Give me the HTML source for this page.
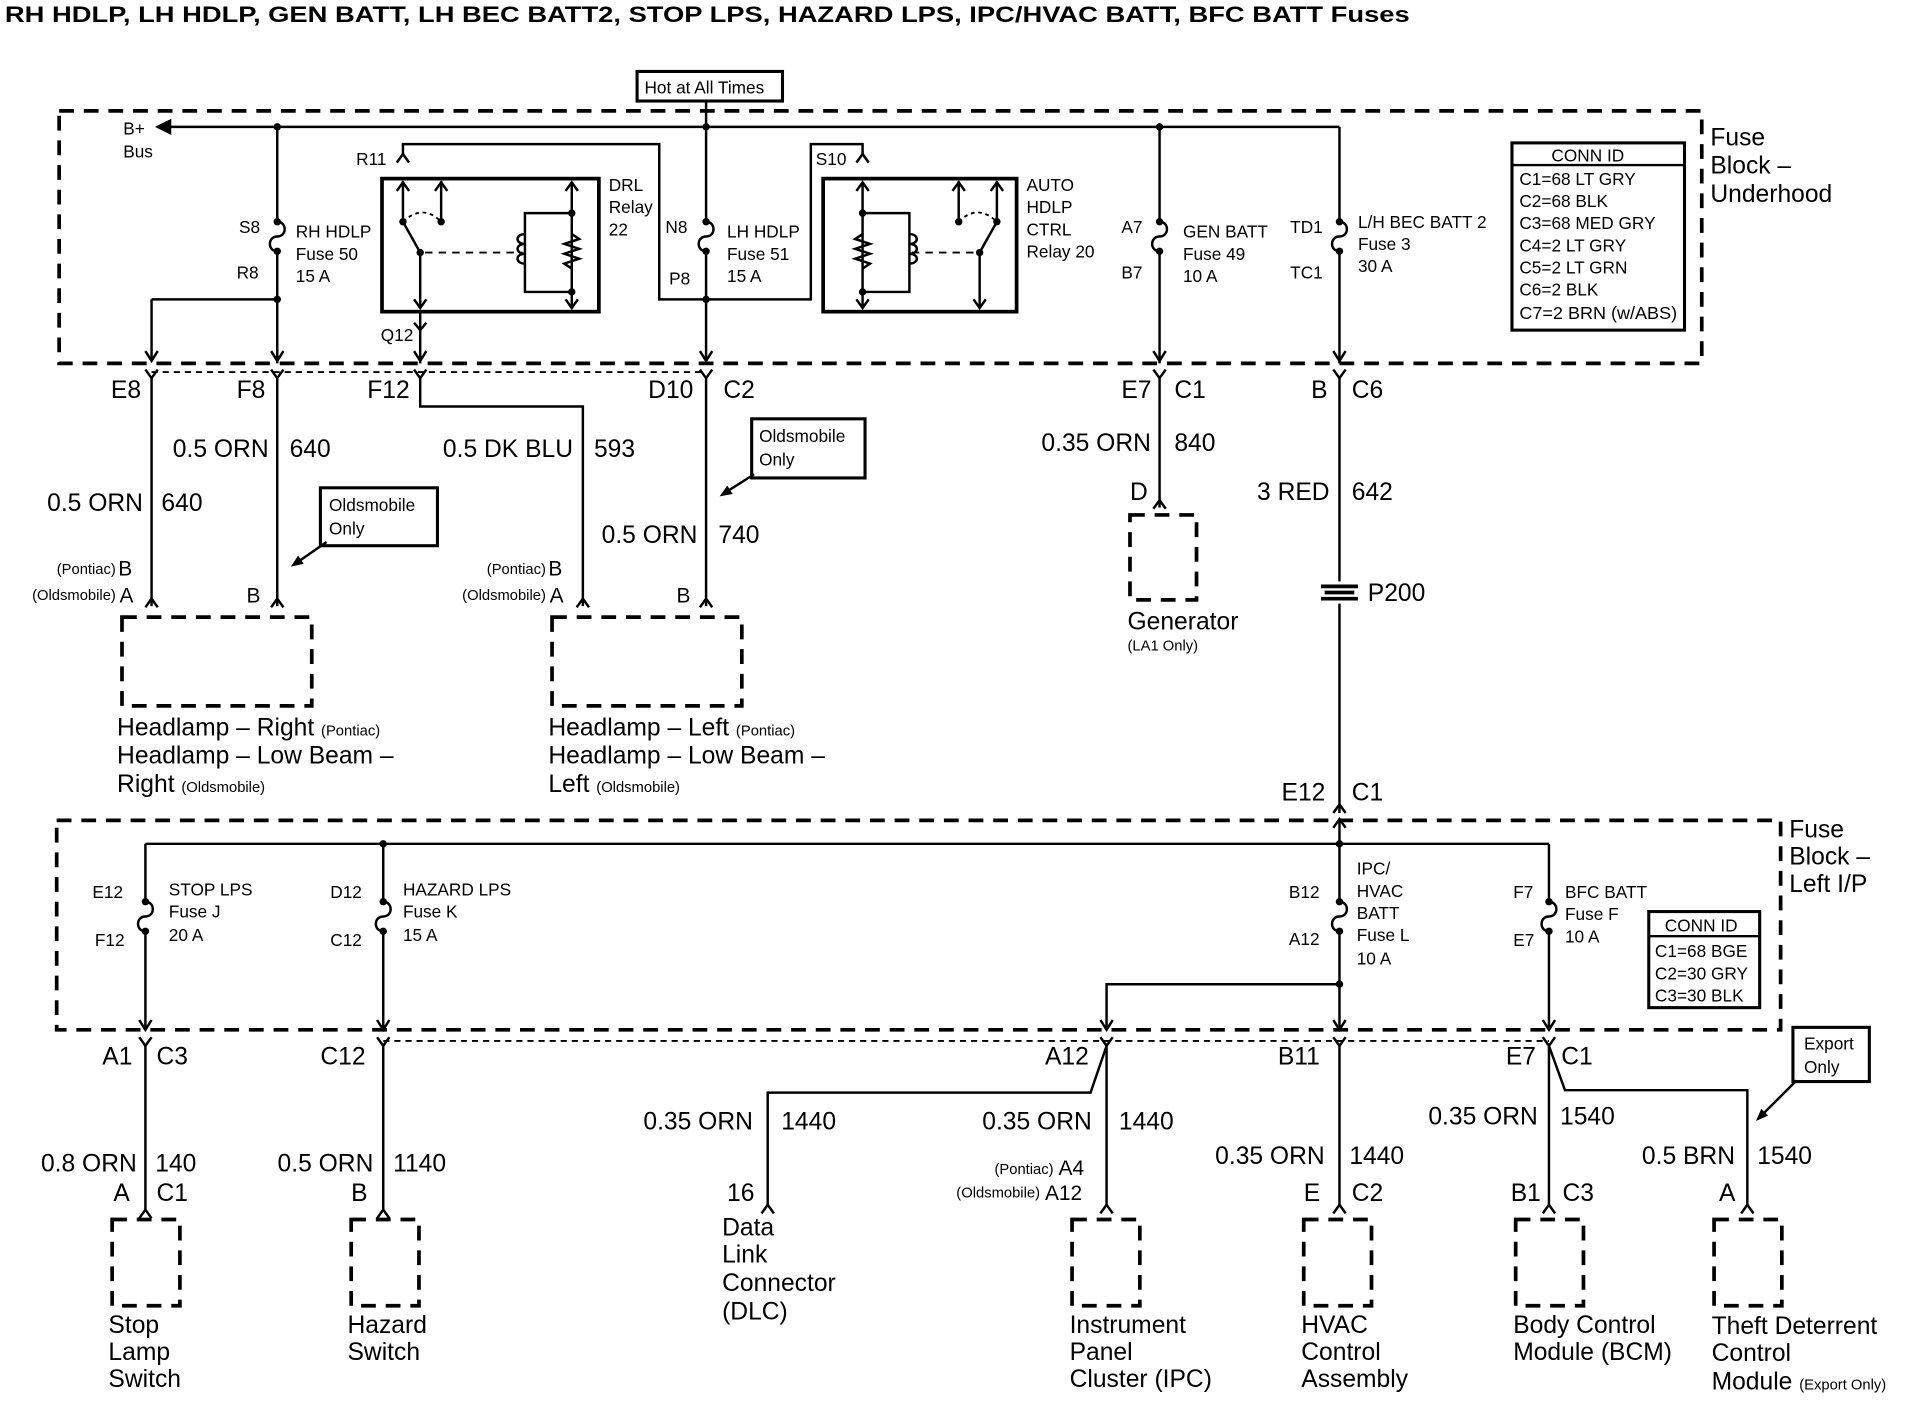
<!DOCTYPE html>
<html><head><meta charset="utf-8"><style>
html,body{margin:0;padding:0;background:#fff;}
svg{display:block;}
text{font-family:"Liberation Sans",Arial,sans-serif;fill:#000;}
.b{font-size:20px;}
.s{font-size:14px;}
.m{font-size:17px;}
.x{font-size:12px;}
.c{font-size:14px;}
.h{font-size:20px;}
</style></head><body>
<svg width="1910" height="1408" viewBox="0 0 1550 1143" preserveAspectRatio="none" xmlns="http://www.w3.org/2000/svg">
<g fill="none" stroke="#000" stroke-width="2">
<rect x="48" y="90" width="1333" height="205" stroke-width="3" stroke-dasharray="12,8"/>
<rect x="517" y="58" width="118" height="24" stroke-width="2.5"/>
<line x1="573" y1="82" x2="573" y2="103"/>
<line x1="128" y1="103" x2="1087" y2="103"/>
<path d="M128 103 L138 98 L138 108 Z" fill="#000"/>
<line x1="225" y1="103" x2="225" y2="180"/><line x1="225" y1="204" x2="225" y2="295"/>
<path d="M225 180 c8 0 8 12 0 12 c-8 0 -8 12 0 12"/>
<line x1="123" y1="243" x2="225" y2="243"/><line x1="123" y1="243" x2="123" y2="293"/>
<path d="M118 285 L123 293 L128 285 M220 285 L225 293 L230 285"/>
<rect x="310" y="145" width="176" height="108" stroke-width="3"/>
<path d="M327 125 V117 H535 V243 H573"/>
<path d="M322 132 L327 125 L332 132"/>
<line x1="327" y1="147" x2="327" y2="180"/><path d="M322 155 L327 148 L332 155"/>
<line x1="358" y1="147" x2="358" y2="180"/><path d="M353 155 L358 148 L363 155"/>
<line x1="327" y1="180" x2="341" y2="205"/>
<path d="M327 180 Q343 165 358 180" stroke-dasharray="3,3" stroke-width="1.5"/>
<line x1="341" y1="205" x2="341" y2="250"/><path d="M336 243 L341 250 L346 243"/>
<line x1="345" y1="205" x2="424" y2="205" stroke-dasharray="6,5" stroke-width="1.5"/>
<path d="M464 148 V250 M459 155 L464 148 L469 155 M459 243 L464 250 L469 243"/>
<path d="M464 173 H426 V237 H464"/>
<path d="M426 190 c-8 0 -8 8 0 8 c-8 0 -8 8 0 8 c-8 0 -8 8 0 8"/>
<path d="M464 190 l6 4 -12 4 12 4 -12 4 12 4 -12 4 6 4" fill="none"/>
<line x1="341" y1="253" x2="341" y2="295"/>
<path d="M336 262 L341 268 L346 262 M336 285 L341 293 L346 285"/>
<line x1="573" y1="103" x2="573" y2="180"/><line x1="573" y1="204" x2="573" y2="295"/>
<path d="M573 180 c8 0 8 12 0 12 c-8 0 -8 12 0 12"/>
<path d="M568 285 L573 293 L578 285"/>
<path d="M573 243 H658 V117 H700 V125"/>
<path d="M695 132 L700 125 L705 132"/>
<rect x="668" y="145" width="157" height="108" stroke-width="3"/>
<path d="M700 148 V250 M695 155 L700 148 L705 155 M695 243 L700 250 L705 243"/>
<path d="M700 173 H738 V237 H700"/>
<path d="M738 190 c8 0 8 8 0 8 c8 0 8 8 0 8 c8 0 8 8 0 8"/>
<path d="M700 190 l-6 4 12 4 -12 4 12 4 -12 4 12 4 -6 4"/>
<line x1="778" y1="147" x2="778" y2="180"/><path d="M773 155 L778 148 L783 155"/>
<line x1="809" y1="147" x2="809" y2="180"/><path d="M804 155 L809 148 L814 155"/>
<line x1="809" y1="180" x2="795" y2="205"/>
<path d="M778 180 Q793 165 809 180" stroke-dasharray="3,3" stroke-width="1.5"/>
<line x1="795" y1="205" x2="795" y2="250"/><path d="M790 243 L795 250 L800 243"/>
<line x1="740" y1="205" x2="792" y2="205" stroke-dasharray="6,5" stroke-width="1.5"/>
<line x1="941" y1="103" x2="941" y2="180"/><line x1="941" y1="204" x2="941" y2="295"/>
<path d="M941 180 c8 0 8 12 0 12 c-8 0 -8 12 0 12"/>
<path d="M936 285 L941 293 L946 285"/>
<line x1="1087" y1="103" x2="1087" y2="180"/><line x1="1087" y1="204" x2="1087" y2="295"/>
<path d="M1087 180 c8 0 8 12 0 12 c-8 0 -8 12 0 12"/>
<path d="M1082 285 L1087 293 L1092 285"/>
<rect x="1227" y="116" width="140" height="152" stroke-width="2.5"/>
<line x1="1227" y1="134" x2="1367" y2="134"/>
<line x1="123" y1="302" x2="573" y2="302" stroke-dasharray="5,4" stroke-width="1.5"/>
<path d="M118 300 L123 307 L128 300 M220 300 L225 307 L230 300 M336 300 L341 307 L346 300 M568 300 L573 307 L578 300 M936 300 L941 307 L946 300 M1082 300 L1087 307 L1092 300"/>
<line x1="123" y1="307" x2="123" y2="492"/>
<line x1="225" y1="307" x2="225" y2="492"/>
<path d="M341 307 V330 H473 V492"/>
<line x1="573" y1="307" x2="573" y2="492"/>
<line x1="941" y1="307" x2="941" y2="412"/>
<line x1="1087" y1="307" x2="1087" y2="472"/><line x1="1087" y1="490" x2="1087" y2="660"/>
<path d="M1072 476 H1102 M1072 486 H1102 M1075 481 H1099" stroke-width="3"/>
<path d="M118 493 L123 486 L128 493 M220 493 L225 486 L230 493 M468 493 L473 486 L478 493 M568 493 L573 486 L578 493 M936 413 L941 406 L946 413 M1082 660 L1087 653 L1092 660"/>
<rect x="260" y="396" width="95" height="47" stroke-width="2.5"/>
<line x1="265" y1="440" x2="242" y2="456"/>
<rect x="610" y="340" width="92" height="48" stroke-width="2.5"/>
<line x1="612" y1="385" x2="590" y2="399"/>
<rect x="99" y="501" width="154" height="72" stroke-width="3" stroke-dasharray="12,8"/>
<rect x="448" y="501" width="154" height="72" stroke-width="3" stroke-dasharray="12,8"/>
<rect x="917" y="418" width="54" height="69" stroke-width="3" stroke-dasharray="12,8"/>
<rect x="46" y="666" width="1399" height="170" stroke-width="3" stroke-dasharray="12,8"/>
<line x1="1087" y1="665" x2="1087" y2="685"/>
<path d="M1082 672 L1087 665 L1092 672"/>
<line x1="118" y1="685" x2="1257" y2="685"/>
<line x1="118" y1="685" x2="118" y2="732"/><line x1="118" y1="756" x2="118" y2="836"/>
<path d="M118 732 c8 0 8 12 0 12 c-8 0 -8 12 0 12"/>
<line x1="311" y1="685" x2="311" y2="732"/><line x1="311" y1="756" x2="311" y2="836"/>
<path d="M311 732 c8 0 8 12 0 12 c-8 0 -8 12 0 12"/>
<line x1="1087" y1="685" x2="1087" y2="732"/><line x1="1087" y1="756" x2="1087" y2="836"/>
<path d="M1087 732 c8 0 8 12 0 12 c-8 0 -8 12 0 12"/>
<line x1="1257" y1="685" x2="1257" y2="732"/><line x1="1257" y1="756" x2="1257" y2="836"/>
<path d="M1257 732 c8 0 8 12 0 12 c-8 0 -8 12 0 12"/>
<path d="M1087 799 H898 V836"/>
<path d="M113 828 L118 836 L123 828 M306 828 L311 836 L316 828 M893 828 L898 836 L903 828 M1082 828 L1087 836 L1092 828 M1252 828 L1257 836 L1262 828"/>
<line x1="311" y1="845" x2="1257" y2="845" stroke-dasharray="5,4" stroke-width="1.5"/>
<path d="M113 842 L118 849 L123 842 M306 842 L311 849 L316 842 M893 842 L898 849 L903 842 M1082 842 L1087 849 L1092 842 M1252 842 L1257 849 L1262 842"/>
<line x1="118" y1="849" x2="118" y2="982"/>
<line x1="311" y1="849" x2="311" y2="982"/>
<path d="M898 849 L885 887 H623 V978"/>
<line x1="898" y1="849" x2="898" y2="978"/>
<line x1="1087" y1="849" x2="1087" y2="978"/>
<path d="M1257 849 L1270 885 H1418 V978"/>
<line x1="1257" y1="849" x2="1257" y2="978"/>
<path d="M113 989 L118 982 L123 989 M306 989 L311 982 L316 989 M618 985 L623 978 L628 985 M893 985 L898 978 L903 985 M1082 985 L1087 978 L1092 985 M1252 985 L1257 978 L1262 985 M1413 985 L1418 978 L1423 985"/>
<rect x="1338" y="740" width="90" height="78" stroke-width="2.5"/>
<line x1="1338" y1="760" x2="1428" y2="760"/>
<rect x="1455" y="834" width="62" height="44" stroke-width="2.5"/>
<line x1="1458" y1="877" x2="1431" y2="904"/>
<rect x="91" y="990" width="55" height="70" stroke-width="3" stroke-dasharray="12,8"/>
<rect x="285" y="990" width="55" height="70" stroke-width="3" stroke-dasharray="12,8"/>
<rect x="870" y="990" width="55" height="70" stroke-width="3" stroke-dasharray="12,8"/>
<rect x="1058" y="990" width="55" height="70" stroke-width="3" stroke-dasharray="12,8"/>
<rect x="1230" y="990" width="55" height="70" stroke-width="3" stroke-dasharray="12,8"/>
<rect x="1391" y="990" width="55" height="70" stroke-width="3" stroke-dasharray="12,8"/>
</g>
<g fill="#000">
<polygon points="236,460 246.5,457.6 241.9,451"/>
<polygon points="584,403 594.6,401 590.2,394.2"/>
<polygon points="1425,910 1434.9,905.7 1429.3,900.1"/>
<circle cx="225" cy="243" r="3"/><circle cx="573" cy="243" r="3"/><circle cx="573" cy="103" r="3"/><circle cx="225" cy="103" r="3"/><circle cx="941" cy="103" r="3"/>
<circle cx="327" cy="180" r="3"/><circle cx="358" cy="180" r="3"/><circle cx="341" cy="205" r="3"/><circle cx="464" cy="173" r="3"/><circle cx="464" cy="237" r="3"/>
<circle cx="700" cy="173" r="3"/><circle cx="700" cy="237" r="3"/><circle cx="778" cy="180" r="3"/><circle cx="809" cy="180" r="3"/><circle cx="795" cy="205" r="3"/>
<circle cx="225" cy="180" r="3"/><circle cx="225" cy="204" r="3"/><circle cx="573" cy="180" r="3"/><circle cx="573" cy="204" r="3"/><circle cx="941" cy="180" r="3"/><circle cx="941" cy="204" r="3"/><circle cx="1087" cy="180" r="3"/><circle cx="1087" cy="204" r="3"/>
<circle cx="311" cy="685" r="3"/><circle cx="1087" cy="685" r="3"/><circle cx="1087" cy="799" r="3"/>
<circle cx="118" cy="732" r="3"/><circle cx="118" cy="756" r="3"/><circle cx="311" cy="732" r="3"/><circle cx="311" cy="756" r="3"/><circle cx="1087" cy="732" r="3"/><circle cx="1087" cy="756" r="3"/><circle cx="1257" cy="732" r="3"/><circle cx="1257" cy="756" r="3"/>
</g>
<text x="4" y="18" font-size="18" font-weight="bold" textLength="1140" lengthAdjust="spacingAndGlyphs">RH HDLP, LH HDLP, GEN BATT, LH BEC BATT2, STOP LPS, HAZARD LPS, IPC/HVAC BATT, BFC BATT Fuses</text>
<text x="523" y="76" class="s">Hot at All Times</text>
<text x="100" y="109" class="s">B+</text><text x="100" y="128" class="s">Bus</text>
<text x="194" y="189" class="s">S8</text><text x="192" y="226" class="s">R8</text>
<text x="240" y="193" class="s">RH HDLP</text><text x="240" y="211" class="s">Fuse 50</text><text x="240" y="229" class="s">15 A</text>
<text x="289" y="134" class="s">R11</text><text x="309" y="277" class="s">Q12</text>
<text x="494" y="155" class="s">DRL</text><text x="494" y="173" class="s">Relay</text><text x="494" y="191" class="s">22</text>
<text x="540" y="189" class="s">N8</text><text x="543" y="231" class="s">P8</text>
<text x="590" y="193" class="s">LH HDLP</text><text x="590" y="211" class="s">Fuse 51</text><text x="590" y="229" class="s">15 A</text>
<text x="662" y="134" class="s">S10</text>
<text x="833" y="155" class="s">AUTO</text><text x="833" y="173" class="s">HDLP</text><text x="833" y="191" class="s">CTRL</text><text x="833" y="209" class="s">Relay 20</text>
<text x="910" y="189" class="s">A7</text><text x="910" y="226" class="s">B7</text>
<text x="960" y="193" class="s">GEN BATT</text><text x="960" y="211" class="s">Fuse 49</text><text x="960" y="229" class="s">10 A</text>
<text x="1047" y="189" class="s">TD1</text><text x="1047" y="226" class="s">TC1</text>
<text x="1102" y="185" class="s">L/H BEC BATT 2</text><text x="1102" y="203" class="s">Fuse 3</text><text x="1102" y="221" class="s">30 A</text>
<text x="1259" y="131" class="c">CONN ID</text>
<text x="1233" y="150" class="c">C1=68 LT GRY</text><text x="1233" y="168" class="c">C2=68 BLK</text><text x="1233" y="186" class="c">C3=68 MED GRY</text><text x="1233" y="204" class="c">C4=2 LT GRY</text><text x="1233" y="222" class="c">C5=2 LT GRN</text><text x="1233" y="240" class="c">C6=2 BLK</text><text x="1233" y="259" class="c" textLength="128" lengthAdjust="spacingAndGlyphs">C7=2 BRN (w/ABS)</text>
<text x="1388" y="118" class="h">Fuse</text><text x="1388" y="141" class="h">Block –</text><text x="1388" y="164" class="h">Underhood</text>
<text x="90" y="323" class="b">E8</text><text x="192" y="323" class="b">F8</text><text x="298" y="323" class="b">F12</text><text x="526" y="323" class="b">D10</text><text x="587" y="323" class="b">C2</text>
<text x="910" y="323" class="b">E7</text><text x="953" y="323" class="b">C1</text><text x="1064" y="323" class="b">B</text><text x="1097" y="323" class="b">C6</text>
<text x="218" y="371" class="b" text-anchor="end">0.5 ORN</text><text x="235" y="371" class="b">640</text>
<text x="116" y="415" class="b" text-anchor="end">0.5 ORN</text><text x="131" y="415" class="b">640</text>
<text x="465" y="371" class="b" text-anchor="end">0.5 DK BLU</text><text x="482" y="371" class="b">593</text>
<text x="566" y="441" class="b" text-anchor="end">0.5 ORN</text><text x="583" y="441" class="b">740</text>
<text x="934" y="366" class="b" text-anchor="end">0.35 ORN</text><text x="953" y="366" class="b">840</text>
<text x="1079" y="406" class="b" text-anchor="end">3 RED</text><text x="1097" y="406" class="b">642</text>
<text x="267" y="415" class="s">Oldsmobile</text><text x="267" y="434" class="s">Only</text>
<text x="616" y="359" class="s">Oldsmobile</text><text x="616" y="378" class="s">Only</text>
<text x="94" y="466" class="x" text-anchor="end">(Pontiac)</text><text x="96" y="467" class="m">B</text>
<text x="94" y="487" class="x" text-anchor="end">(Oldsmobile)</text><text x="97" y="489" class="m">A</text>
<text x="200" y="489" class="m">B</text>
<text x="443" y="466" class="x" text-anchor="end">(Pontiac)</text><text x="445" y="467" class="m">B</text>
<text x="443" y="487" class="x" text-anchor="end">(Oldsmobile)</text><text x="446" y="489" class="m">A</text>
<text x="549" y="489" class="m">B</text>
<text x="917" y="406" class="b">D</text>
<text x="95" y="597" class="b">Headlamp – Right <tspan class="x">(Pontiac)</tspan></text>
<text x="95" y="620" class="b">Headlamp – Low Beam –</text>
<text x="95" y="643" class="b">Right <tspan class="x">(Oldsmobile)</tspan></text>
<text x="445" y="597" class="b">Headlamp – Left <tspan class="x">(Pontiac)</tspan></text>
<text x="445" y="620" class="b">Headlamp – Low Beam –</text>
<text x="445" y="643" class="b">Left <tspan class="x">(Oldsmobile)</tspan></text>
<text x="915" y="511" class="b">Generator</text><text x="915" y="528" class="x">(LA1 Only)</text>
<text x="1110" y="488" class="b">P200</text>
<text x="1040" y="650" class="b">E12</text><text x="1097" y="650" class="b">C1</text>
<text x="1452" y="680" class="h">Fuse</text><text x="1452" y="702" class="h">Block –</text><text x="1452" y="724" class="h">Left I/P</text>
<text x="75" y="729" class="s">E12</text><text x="77" y="768" class="s">F12</text>
<text x="137" y="727" class="s">STOP LPS</text><text x="137" y="745" class="s">Fuse J</text><text x="137" y="764" class="s">20 A</text>
<text x="268" y="729" class="s">D12</text><text x="268" y="768" class="s">C12</text>
<text x="327" y="727" class="s">HAZARD LPS</text><text x="327" y="745" class="s">Fuse K</text><text x="327" y="764" class="s">15 A</text>
<text x="1046" y="729" class="s">B12</text><text x="1046" y="767" class="s">A12</text>
<text x="1101" y="710" class="s">IPC/</text><text x="1101" y="728" class="s">HVAC</text><text x="1101" y="746" class="s">BATT</text><text x="1101" y="764" class="s">Fuse L</text><text x="1101" y="783" class="s">10 A</text>
<text x="1228" y="729" class="s">F7</text><text x="1228" y="768" class="s">E7</text>
<text x="1270" y="729" class="s">BFC BATT</text><text x="1270" y="747" class="s">Fuse F</text><text x="1270" y="765" class="s">10 A</text>
<text x="1351" y="756" class="s">CONN ID</text>
<text x="1343" y="777" class="c">C1=68 BGE</text><text x="1343" y="795" class="c">C2=30 GRY</text><text x="1343" y="813" class="c">C3=30 BLK</text>
<text x="83" y="864" class="b">A1</text><text x="127" y="864" class="b">C3</text><text x="260" y="864" class="b">C12</text>
<text x="848" y="864" class="b">A12</text><text x="1037" y="864" class="b">B11</text><text x="1222" y="864" class="b">E7</text><text x="1267" y="864" class="b">C1</text>
<text x="1464" y="852" class="s">Export</text><text x="1464" y="871" class="s">Only</text>
<text x="111" y="951" class="b" text-anchor="end">0.8 ORN</text><text x="126" y="951" class="b">140</text>
<text x="303" y="951" class="b" text-anchor="end">0.5 ORN</text><text x="319" y="951" class="b">1140</text>
<text x="611" y="917" class="b" text-anchor="end">0.35 ORN</text><text x="634" y="917" class="b">1440</text>
<text x="886" y="917" class="b" text-anchor="end">0.35 ORN</text><text x="908" y="917" class="b">1440</text>
<text x="1075" y="945" class="b" text-anchor="end">0.35 ORN</text><text x="1095" y="945" class="b">1440</text>
<text x="1248" y="913" class="b" text-anchor="end">0.35 ORN</text><text x="1266" y="913" class="b">1540</text>
<text x="1408" y="945" class="b" text-anchor="end">0.5 BRN</text><text x="1426" y="945" class="b">1540</text>
<text x="92" y="975" class="b">A</text><text x="127" y="975" class="b">C1</text><text x="285" y="975" class="b">B</text>
<text x="590" y="975" class="b">16</text>
<text x="855" y="953" class="x" text-anchor="end">(Pontiac)</text><text x="859" y="954" font-size="17">A4</text>
<text x="844" y="972" class="x" text-anchor="end">(Oldsmobile)</text><text x="848" y="974" font-size="17">A12</text>
<text x="1058" y="975" class="b">E</text><text x="1097" y="975" class="b">C2</text>
<text x="1226" y="975" class="b">B1</text><text x="1268" y="975" class="b">C3</text><text x="1395" y="975" class="b">A</text>
<text x="88" y="1082" class="b">Stop</text><text x="88" y="1104" class="b">Lamp</text><text x="88" y="1126" class="b">Switch</text>
<text x="282" y="1082" class="b">Hazard</text><text x="282" y="1104" class="b">Switch</text>
<text x="586" y="1003" class="b">Data</text><text x="586" y="1025" class="b">Link</text><text x="586" y="1048" class="b">Connector</text><text x="586" y="1071" class="b">(DLC)</text>
<text x="868" y="1082" class="b">Instrument</text><text x="868" y="1104" class="b">Panel</text><text x="868" y="1126" class="b">Cluster (IPC)</text>
<text x="1056" y="1082" class="b">HVAC</text><text x="1056" y="1104" class="b">Control</text><text x="1056" y="1126" class="b">Assembly</text>
<text x="1228" y="1082" class="b">Body Control</text><text x="1228" y="1104" class="b">Module (BCM)</text>
<text x="1389" y="1083" class="b">Theft Deterrent</text><text x="1389" y="1105" class="b">Control</text><text x="1389" y="1128" class="b">Module <tspan class="x">(Export Only)</tspan></text>
</svg>
</body></html>
